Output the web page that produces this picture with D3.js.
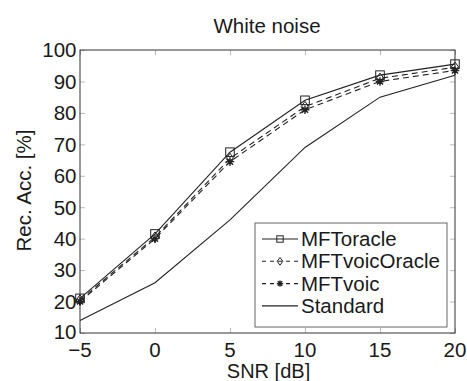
<!DOCTYPE html>
<html><head><meta charset="utf-8">
<script src="https://cdn.jsdelivr.net/npm/d3@7"></script>
<style>body{margin:0;background:#fff}svg{display:block}text{font-family:"Liberation Sans",Arial,sans-serif;fill:#1a1a1a}</style>
</head><body><svg id="c" width="467" height="381"></svg>
<script>
const snr = [-5, 0, 5, 10, 15, 20];
const mftOracle = [21, 41.5, 67.5, 84, 92, 95.5];
const mftVoicOracle = [20.5, 40.5, 65.5, 82, 91, 94.5];
const mftVoic = [20, 40, 64.5, 81, 90, 93.5];
const standard = [14, 26, 46, 69, 85, 92];
const xTicks = [-5, 0, 5, 10, 15, 20];
const yTicks = [10, 20, 30, 40, 50, 60, 70, 80, 90, 100];
const seriesNames = ["MFToracle", "MFTvoicOracle", "MFTvoic", "Standard"];

const svg = d3.select("#c");
const L = 80, R = 455, T = 50, B = 333;
const x = d3.scaleLinear().domain([-5, 20]).range([L, R]);
const y = d3.scaleLinear().domain([10, 100]).range([B, T]);
const col = "#222";
const FS = 20.5;

function txt(g, tx, ty, s, anchor, rot, fs) {
  return g.append("text")
    .attr("transform", `translate(${tx},${ty})` + (rot ? ` rotate(${rot})` : ""))
    .attr("text-anchor", anchor).attr("font-size", fs || FS).text(s);
}

txt(svg, 267, 33, "White noise", "middle");

// ticks (inward, on all four sides)
const ax = svg.append("g").attr("transform", `translate(0,${B})`).call(d3.axisBottom(x).tickValues(xTicks).tickSize(-5).tickFormat(""));
const ay = svg.append("g").attr("transform", `translate(${L},0)`).call(d3.axisLeft(y).tickValues(yTicks).tickSize(-5).tickFormat(""));
const axT = svg.append("g").attr("transform", `translate(0,${T})`).call(d3.axisTop(x).tickValues(xTicks).tickSize(-5).tickFormat(""));
const ayR = svg.append("g").attr("transform", `translate(${R},0)`).call(d3.axisRight(y).tickValues(yTicks).tickSize(-5).tickFormat(""));
[ax, ay, axT, ayR].forEach(g => { g.select(".domain").remove(); g.selectAll("line").attr("stroke", "#aaa").attr("stroke-width", 0.8); });

// tick labels
xTicks.forEach(d => txt(svg, x(d), 356.5, d < 0 ? "\u2212" + Math.abs(d) : String(d), "middle"));
yTicks.forEach(d => txt(svg, 76.5, y(d) + (d === 10 ? 5.5 : 7.3), String(d), "end"));

svg.append("rect").attr("x", L).attr("y", T).attr("width", R - L).attr("height", B - T).attr("fill", "none").attr("stroke", "#333").attr("stroke-width", 1);

txt(svg, 31, 190.5, "Rec. Acc. [%]", "middle", -90);
txt(svg, 268.5, 377.5, "SNR [dB]", "middle", 0, 20);

const line = d3.line().x((d, i) => x(snr[i])).y(d => y(d));
const series = [
  { v: mftOracle, dash: null, m: "square" },
  { v: mftVoicOracle, dash: "6,4", m: "diamond" },
  { v: mftVoic, dash: "6,4", m: "star" },
  { v: standard, dash: null, m: null }
];
function marker(g, type, cx, cy, s) {
  if (type === "square") g.append("rect").attr("x", cx - s).attr("y", cy - s).attr("width", 2 * s).attr("height", 2 * s).attr("fill", "none").attr("stroke", col).attr("stroke-width", 1);
  else if (type === "diamond") g.append("path").attr("d", `M${cx},${cy - s * 1.2}L${cx + s * 0.9},${cy}L${cx},${cy + s * 1.2}L${cx - s * 0.9},${cy}Z`).attr("fill", "none").attr("stroke", col).attr("stroke-width", 1);
  else if (type === "star") {
    const p = [];
    for (let k = 0; k < 4; k++) { const a = k * Math.PI / 4; p.push(`M${cx - s * Math.cos(a)},${cy - s * Math.sin(a)}L${cx + s * Math.cos(a)},${cy + s * Math.sin(a)}`); }
    g.append("path").attr("d", p.join("")).attr("stroke", col).attr("stroke-width", 1.4);
  }
}
series.forEach(s => {
  svg.append("path").attr("d", line(s.v)).attr("fill", "none").attr("stroke", col).attr("stroke-width", 1.1).attr("stroke-dasharray", s.dash);
  if (s.m) s.v.forEach((d, i) => marker(svg, s.m, x(snr[i]), y(d), 4.3));
});

// legend
const lg = svg.append("g");
lg.append("rect").attr("x", 255).attr("y", 223).attr("width", 192).attr("height", 104).attr("fill", "#fff").attr("stroke", "#555").attr("stroke-width", 0.9);
series.forEach((s, i) => {
  const yy = 239 + i * 22.3;
  lg.append("line").attr("x1", 262).attr("x2", 298).attr("y1", yy).attr("y2", yy).attr("stroke", col).attr("stroke-width", 1.1).attr("stroke-dasharray", s.dash ? "4,4" : null);
  if (s.m) marker(lg, s.m, 280, yy, 3.2);
  txt(lg, 301, yy + 7, seriesNames[i], "start");
});
</script></body></html>
